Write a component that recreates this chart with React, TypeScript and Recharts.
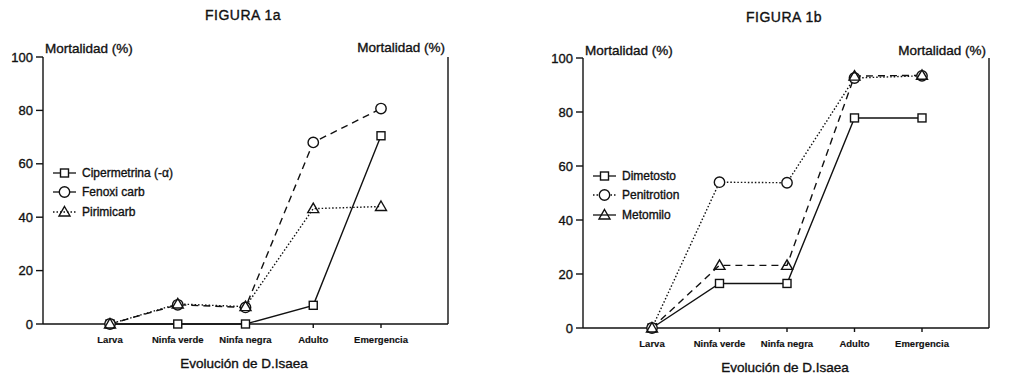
import React from 'react';
import { CartesianGrid, Legend, Line, LineChart, XAxis, YAxis } from 'recharts';

// Life stages of D. Isaea (shared x categories)
const stages = ['Larva', 'Ninfa verde', 'Ninfa negra', 'Adulto', 'Emergencia'];
const yTicks = [0, 20, 40, 60, 80, 100];

// Figura 1a — mortalidad (%)
const cipermetrina = [0, 0, 0, 7, 70.5];
const fenoxiCarb = [0, 7.2, 6.2, 68, 80.7];
const pirimicarb = [0, 7.5, 6.5, 43.2, 44];

// Figura 1b — mortalidad (%)
const dimetosto = [0, 16.5, 16.5, 77.8, 77.8];
const penitrotion = [0, 54, 53.8, 92.6, 93.4];
const metomilo = [0, 23.2, 23.2, 93.3, 93.6];

const FONT = "'Liberation Sans', Arial, Helvetica, sans-serif";
const INK = '#111';
// the scanned original prints a little heavier than a plain regular face
const THICK = 0.35;

type Shape = 'square' | 'circle' | 'triangle';
type Series = { key: string; name: string; values: number[]; shape: Shape; dash?: string };

const seriesA: Series[] = [
  { key: 'cip', name: 'Cipermetrina (-α)', values: cipermetrina, shape: 'square' },
  { key: 'fen', name: 'Fenoxi carb', values: fenoxiCarb, shape: 'circle', dash: '7 5' },
  { key: 'pir', name: 'Pirimicarb', values: pirimicarb, shape: 'triangle', dash: '1.5 2' },
];

const seriesB: Series[] = [
  { key: 'dim', name: 'Dimetosto', values: dimetosto, shape: 'square' },
  { key: 'pen', name: 'Penitrotion', values: penitrotion, shape: 'circle', dash: '1.5 2' },
  { key: 'met', name: 'Metomilo', values: metomilo, shape: 'triangle', dash: '7 5' },
];

function Marker({ shape, cx, cy }: { shape: Shape; cx: number; cy: number }) {
  if (cx == null || cy == null) return null;
  if (shape === 'square')
    return <rect x={cx - 4} y={cy - 4} width={8} height={8} fill="#fff" stroke={INK} strokeWidth={1.4} />;
  if (shape === 'circle') return <circle cx={cx} cy={cy} r={5.2} fill="#fff" stroke={INK} strokeWidth={1.4} />;
  return (
    <path
      d={`M${cx},${cy - 5.5}L${cx + 5.5},${cy + 4}L${cx - 5.5},${cy + 4}Z`}
      fill="none"
      stroke={INK}
      strokeWidth={1.4}
    />
  );
}

function LegendBox({ series }: { series: Series[] }) {
  return (
    <div style={{ fontFamily: FONT, fontSize: 12, color: INK, WebkitTextStroke: `${THICK}px ${INK}` }}>
      {series.map((s) => (
        <div key={s.key} style={{ display: 'flex', alignItems: 'center', height: 19.5 }}>
          <svg width={23} height={14} style={{ display: 'block' }}>
            <line
              x1={0}
              y1={7}
              x2={23}
              y2={7}
              stroke={INK}
              strokeWidth={1.3}
              strokeDasharray={s.dash === '1.5 2' ? s.dash : undefined}
            />
            <Marker shape={s.shape} cx={11.5} cy={7} />
          </svg>
          <span style={{ marginLeft: 6, whiteSpace: 'nowrap' }}>{s.name}</span>
        </div>
      ))}
    </div>
  );
}

type PanelProps = {
  title: string;
  series: Series[];
  left: number;
  width: number;
  margin: { top: number; right: number; bottom: number; left: number };
  legendPos: { left: number; top: number };
  padLeft: number;
  padRight: number;
  labels: { title: [number, number]; yl: [number, number]; yr: [number, number]; xt: [number, number] };
  rightTickMargin: number;
  leftTickMargin: number;
};

function Panel(p: PanelProps) {
  const data = stages.map((stage, i) => {
    const row: Record<string, string | number> = { stage };
    p.series.forEach((s) => (row[s.key] = s.values[i]));
    return row;
  });
  const text: React.CSSProperties = {
    position: 'absolute',
    fontFamily: FONT,
    color: INK,
    whiteSpace: 'nowrap',
    WebkitTextStroke: `${THICK}px ${INK}`,
  };
  const tickStyle = { fill: INK, fontFamily: FONT, stroke: INK, strokeWidth: THICK };

  return (
    <div style={{ position: 'absolute', left: p.left, top: 0, width: p.width, height: 375 }}>
      <LineChart width={p.width} height={375} data={data} margin={p.margin}>
        <CartesianGrid stroke="none" />
        <XAxis
          dataKey="stage"
          height={30}
          padding={{ left: p.padLeft, right: p.padRight }}
          tickSize={4}
          tickMargin={8}
          stroke={INK}
          strokeWidth={1.4}
          interval={0}
          tick={{ ...tickStyle, fontSize: 9.5, fontWeight: 700, strokeWidth: 0.15 }}
        />
        <YAxis
          yAxisId="l"
          width={35}
          domain={[0, 100]}
          ticks={yTicks}
          tickSize={7}
          tickMargin={p.leftTickMargin}
          stroke={INK}
          strokeWidth={1.4}
          tick={{ ...tickStyle, fontSize: 13 }}
        />
        <YAxis
          yAxisId="r"
          orientation="right"
          width={40}
          domain={[0, 100]}
          ticks={yTicks}
          tickSize={7}
          tickMargin={p.rightTickMargin}
          stroke={INK}
          strokeWidth={1.4}
          tick={{ ...tickStyle, fontSize: 13, textAnchor: 'start' }}
        />
        {p.series.map((s) => (
          <Line
            key={s.key}
            yAxisId="l"
            dataKey={s.key}
            name={s.name}
            type="linear"
            stroke={INK}
            strokeWidth={1.4}
            strokeDasharray={s.dash}
            isAnimationActive={false}
            dot={(d: any) => <Marker key={`${s.key}-${d.index}`} shape={s.shape} cx={d.cx} cy={d.cy} />}
            activeDot={false}
          />
        ))}
        <Legend
          layout="vertical"
          align="center"
          verticalAlign="middle"
          wrapperStyle={{ left: p.legendPos.left, top: p.legendPos.top, width: 'auto' }}
          content={() => <LegendBox series={p.series} />}
        />
      </LineChart>

      <div
        style={{
          ...text,
          left: p.labels.title[0],
          top: p.labels.title[1],
          fontSize: 14,
          letterSpacing: 0.5,
          transform: 'translate(-50%, -50%)',
        }}
      >
        {p.title}
      </div>
      <div style={{ ...text, left: p.labels.yl[0], top: p.labels.yl[1], fontSize: 13.5, transform: 'translateY(-50%)' }}>
        Mortalidad (%)
      </div>
      <div
        style={{ ...text, left: p.labels.yr[0], top: p.labels.yr[1], fontSize: 13.5, transform: 'translate(-100%, -50%)' }}
      >
        Mortalidad (%)
      </div>
      <div
        style={{ ...text, left: p.labels.xt[0], top: p.labels.xt[1], fontSize: 13.5, transform: 'translate(-50%, -50%)' }}
      >
        Evolución de D.Isaea
      </div>
    </div>
  );
}

export default function App() {
  return (
    <div style={{ position: 'absolute', left: 0, top: 0, width: 1033, height: 375, background: '#fff' }}>
      <Panel
        title="FIGURA 1a"
        series={seriesA}
        left={0}
        width={500}
        margin={{ top: 57, right: 12, bottom: 21, left: 8 }}
        legendPos={{ left: 53, top: 163 }}
        padLeft={67}
        padRight={67}
        leftTickMargin={3}
        rightTickMargin={6}
        labels={{ title: [243, 15], yl: [45, 48], yr: [445, 47], xt: [244, 363] }}
      />
      <Panel
        title="FIGURA 1b"
        series={seriesB}
        left={530}
        width={503}
        margin={{ top: 58, right: 4, bottom: 17, left: 18 }}
        legendPos={{ left: 63, top: 166 }}
        padLeft={69}
        padRight={67}
        leftTickMargin={3}
        rightTickMargin={6}
        labels={{ title: [254, 17], yl: [55, 50], yr: [456, 50], xt: [255, 367] }}
      />
    </div>
  );
}
